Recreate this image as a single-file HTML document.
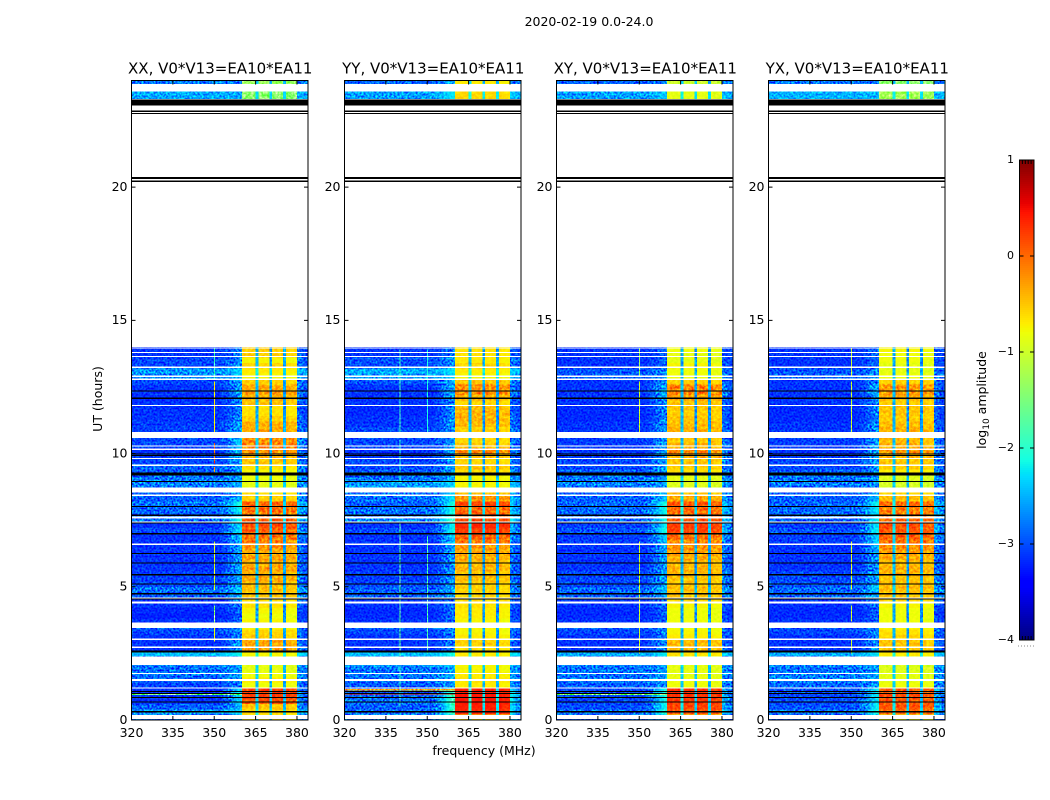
<!DOCTYPE html>
<html lang="en">
<head>
<meta charset="utf-8">
<title>2020-02-19 spectrogram</title>
<style>
html,body{margin:0;padding:0;background:#fff;}
svg{display:block;font-family:"DejaVu Sans","Liberation Sans",sans-serif;fill:#000;}
text{font-size:12.5px;}
</style>
</head>
<body>
<svg id="figure" xmlns="http://www.w3.org/2000/svg" width="1050" height="800" viewBox="0 0 1050 800">
  <defs>
    <filter id="grain" x="0" y="0" width="100%" height="100%" color-interpolation-filters="sRGB">
      <feTurbulence type="fractalNoise" baseFrequency="0.5" numOctaves="2" seed="7"/>
      <feColorMatrix type="matrix" values="2.4 0 0 0 -0.7  2.4 0 0 0 -0.7  2.4 0 0 0 -0.7  0 0 0 0 1"/>
    </filter>
    <filter id="grain-soft" x="0" y="0" width="100%" height="100%" color-interpolation-filters="sRGB">
      <feTurbulence type="fractalNoise" baseFrequency="0.37" numOctaves="2" seed="11"/>
      <feColorMatrix type="matrix" values="1.2 0 0 0 -0.1  1.2 0 0 0 -0.1  1.2 0 0 0 -0.1  0 0 0 0 1"/>
    </filter>
  </defs>
  <text x="589" y="26" text-anchor="middle">2020-02-19 0.0-24.0</text>
  <text transform="translate(102,399) rotate(-90)" text-anchor="middle">UT (hours)</text>
  <text x="484" y="755" text-anchor="middle">frequency (MHz)</text>
  <text transform="translate(986,400) rotate(-90)" text-anchor="middle">log<tspan font-size="9" dy="3">10</tspan><tspan dy="-3"> amplitude</tspan></text>
  <g id="panels"></g>
  <g id="colorbar"></g>
</svg>
<script>
// ---- axis labels ----
const polarisations = ["XX", "YY", "XY", "YX"];
const panelTitleSuffix = ", V0*V13=EA10*EA11";
const xTickValues = [320, 335, 350, 365, 380];
const yTickValues = [0, 5, 10, 15, 20];
const colorbarTickValues = [1, 0, -1, -2, -3, -4];
const colorbarTickLabels = ["1", "0", "\u22121", "\u22122", "\u22123", "\u22124"];

// ---- per-channel weights, channels at 320..383 MHz in 1 MHz steps ----
const bandWeight = [
 0,0,0,0,0,0,0,0,0,0, 0,0,0,0,0,0,0,0,0,0,
 0,0,0,0,0,0,0,0,0,0, 0,0,0,0,0,0,0,0,0,0,
 1,1,1,1,1,.25,1,1,1,1,
 .2,1,1,1,1,.2,1,.98,.98,.98,
 0,0,0,0];
const shoulderWeight = [
 0,0,0,0,0,0,0,0,0,0, 0,0,0,0,0,0,0,0,0,0,
 0,0,0,0,0,0,0,0,0,0, 0,0,.05,.1,.15,.25,.35,.45,.55,.6,
 0,0,0,0,0,0,0,0,0,0, 0,0,0,0,0,0,0,0,0,0,
 .4,.3,.2,.15];

// ---- log10 amplitude per 0.2 h row, 0 to 14 h: inside the 360-380 MHz band ----
const highXX = [
 -.7,-.6,-.5,.1,.25,  .2,-.8,-.7,-.8,-.85,  -.85,-.8,-.75,-.3,-.35,
 -.55,-.6,-.75,-.75,-.8,  -.75,-.65,-.6,-.5,-.45,  -.45,-.35,-.4,-.3,-.4,
 -.3,-.35,-.25,-.15,-.05,  .05,.15,.05,-.15,0,  .05,-.55,-.65,-.85,-.85,
 -.8,-.75,-.65,-.5,-.4,  -.2,-.15,-.2,-.4,-.35,  -.4,-.55,-.65,-.65,-.5,
 -.4,-.3,-.35,-.55,-.75,  -.7,-.6,-.75,-.55,-.55];
const highYY = [
 -.6,.35,.4,.45,.45,  .4,-.7,-.65,-.7,-.75,  -.75,-.7,-.7,-.65,-.55,
 -.7,-.75,-.75,-.75,-.7,  -.7,-.65,-.6,-.6,-.55,  -.55,-.45,-.5,-.4,-.45,
 -.35,-.35,-.25,-.1,.05,  .25,.35,.15,.05,0,  .2,-.25,-.45,-.75,-.75,
 -.75,-.6,-.5,-.6,-.45,  -.2,-.5,-.6,-.6,-.55,  -.45,-.4,-.4,-.45,-.6,
 -.4,-.2,-.2,-.5,-.75,  -.7,-.6,-.7,-.65,-.65];
const highXY = [
 -.7,.1,.2,.25,.3,  .3,-.8,-.8,-.85,-.85,  -.85,-.8,-.65,-.45,-.45,
 -.7,-.75,-.8,-.8,-.8,  -.8,-.75,-.6,-.5,-.45,  -.5,-.5,-.4,-.4,-.45,
 -.35,-.3,-.2,-.15,0,  .2,.25,.1,-.05,0,  .1,-.35,-.5,-.9,-.9,
 -.85,-.65,-.55,-.5,-.35,  -.2,-.45,-.5,-.6,-.4,  -.45,-.5,-.55,-.5,-.5,
 -.3,-.15,-.15,-.55,-.8,  -.8,-.75,-.85,-.85,-.8];
const highYX = [
 -.8,0,.1,.1,.15,  .1,-.8,-.85,-.85,-.9,  -.9,-.85,-.7,-.5,-.5,
 -.6,-.65,-.75,-.8,-.8,  -.8,-.75,-.6,-.5,-.45,  -.45,-.5,-.4,-.4,-.45,
 -.35,-.3,-.2,-.05,.05,  .1,.15,0,-.15,-.1,  0,-.45,-.6,-.95,-.95,
 -.9,-.7,-.55,-.5,-.4,  -.25,-.4,-.45,-.5,-.4,  -.45,-.55,-.5,-.5,-.55,
 -.4,-.25,-.25,-.55,-.8,  -.85,-.85,-.8,-.8,-.75];

// ---- log10 amplitude per 0.2 h row: outside the band ----
const lowXX = [
 -2.83,-2.63,-2.93,-3.13,-3.13,  -3.13,-3.03,-2.93,-2.83,-2.83,  -2.73,-2.73,-2.43,-3.13,-3.13,
 -3.13,-3.03,-2.93,-3.13,-3.23,  -3.18,-3.13,-3.13,-2.93,-2.83,  -3.03,-3.08,-3.08,-3.13,-3.13,
 -3.13,-3.13,-3.13,-3.13,-3.13,  -3.03,-3.13,-2.83,-2.93,-2.88,  -2.83,-2.93,-2.93,-2.83,-2.73,
 -2.83,-2.93,-2.93,-3.03,-3.08,  -3.13,-3.03,-3.03,-3.03,-3.08,  -3.08,-3.13,-3.13,-3.13,-3.13,
 -3.18,-3.13,-3.13,-3.03,-2.73,  -2.63,-3.03,-3.03,-3.13,-3.13];
const lowYY = [
 -2.73,-2.83,-2.93,-2.83,-2.88,  -2.93,-2.93,-2.83,-2.83,-2.83,  -2.63,-2.63,-2.43,-3.13,-3.13,
 -3.13,-3.03,-2.93,-3.13,-3.18,  -3.18,-3.13,-3.13,-2.93,-2.93,  -3.03,-3.08,-3.08,-3.13,-3.13,
 -3.13,-3.13,-3.13,-3.13,-3.13,  -3.03,-3.13,-2.73,-2.83,-2.83,  -2.93,-2.83,-2.83,-2.58,-2.63,
 -2.83,-2.93,-3.03,-3.03,-3.13,  -3.13,-3.03,-3.03,-2.98,-3.03,  -3.13,-3.13,-3.18,-3.18,-3.13,
 -3.13,-3.13,-3.13,-2.98,-2.63,  -2.53,-3.03,-2.98,-3.13,-3.13];
const lowXY = [
 -2.93,-2.83,-3.03,-3.03,-3.03,  -3.03,-2.93,-2.83,-2.83,-2.83,  -2.73,-2.73,-2.53,-3.13,-3.13,
 -3.13,-3.03,-2.98,-3.13,-3.18,  -3.18,-3.13,-3.13,-2.93,-2.88,  -3.03,-3.03,-3.03,-3.13,-3.13,
 -3.13,-3.13,-3.13,-3.08,-3.08,  -2.98,-3.08,-2.93,-2.88,-2.88,  -2.88,-2.93,-2.93,-2.88,-2.73,
 -2.83,-2.93,-3.03,-3.03,-3.08,  -3.13,-3.08,-3.08,-3.08,-3.13,  -3.13,-3.18,-3.18,-3.18,-3.13,
 -3.13,-3.13,-3.13,-3.13,-2.93,  -2.98,-3.13,-3.13,-3.13,-3.13];
const lowYX = [
 -2.93,-2.83,-2.98,-3.03,-3.03,  -2.98,-2.88,-2.78,-2.78,-2.83,  -2.73,-2.73,-2.53,-3.13,-3.13,
 -3.13,-3.03,-2.98,-3.13,-3.18,  -3.18,-3.13,-3.13,-2.93,-2.88,  -2.98,-3.03,-3.03,-3.13,-3.13,
 -3.13,-3.13,-3.13,-3.08,-3.08,  -2.98,-3.08,-2.93,-2.88,-2.88,  -2.88,-2.93,-2.93,-2.88,-2.78,
 -2.83,-2.93,-3.03,-3.03,-3.08,  -3.13,-3.08,-3.08,-3.08,-3.13,  -3.13,-3.18,-3.18,-3.18,-3.13,
 -3.13,-3.13,-3.13,-3.13,-2.93,  -2.98,-3.13,-3.13,-3.13,-3.13];

// ---- the two short strips near 24 h: [hour start, hour end] with band and off-band levels ----
const topStripHours = [[23.3, 23.58], [23.86, 24]];
const topHighXX = [-1.4, -1.3];
const topHighYY = [-.6, -.7];
const topHighXY = [-.85, -1];
const topHighYX = [-1.25, -1.4];
const topLowXX = [-2.55, -2.8];
const topLowYY = [-2.6, -2.9];
const topLowXY = [-2.6, -2.9];
const topLowYX = [-2.5, -2.8];

// ---- flagged time ranges in hours, common to all four baselines ----
const blankHours = [
 [13.94,13.98],[13.78,13.82],[13.63,13.67],[13.22,13.26],[12.88,12.92],[12.77,12.81],[11.79,11.83],
 [10.59,10.81],[10.27,10.31],[10.14,10.18],[9.8,9.84],[9.54,9.58],[8.54,8.72],[8.42,8.46],[7.57,7.64],
 [7.41,7.45],[6.58,6.62],[4.55,4.59],[4.37,4.44],[3.45,3.65],[3.01,3.05],[2.71,2.75],[2.06,2.38],
 [1.73,1.77],[1.47,1.53],[1.18,1.22],[.03,.19]];
const blackHours = [
 [23.07,23.29],[22.84,22.87],[22.74,22.78],[20.31,20.37],[20.19,20.25],
 [12.34,12.37],[12.07,12.1],[9.98,10.01],[9.92,9.95],[9.25,9.28],[9.2,9.23],[8.94,8.97],[8,8.03],
 [7.66,7.72],[7.39,7.42],[6.98,7.01],[6.24,6.27],[5.88,5.91],[5.44,5.47],[5.1,5.13],[4.73,4.76],
 [4.54,4.56],[2.53,2.61],[1.06,1.09],[.99,1.02],[.84,.87],[.67,.7],[.3,.33]];

// ---- narrow interference: [frequency MHz, hour start, hour end, log10 amplitude] ----
const spurXX = [[350,2.55,2.65,-.8],[350,2.94,3.45,-.8],[350,3.64,4.3,-1.4],[350,4.88,6.69,-.9],
 [350,9.3,9.5,-.3],[350,9.63,10.4,.1],[350,10.77,12.7,-.7],[350,12.76,13.95,-1.9]];
const spurYY = [[340,.5,2,-1.9],[340,2.4,7.4,-1.7],[340,8.9,10.5,-2],[340,10.8,13.9,-1.9],
 [350,2.5,6.9,-1.8],[350,10.8,13.9,-2.1]];
const spurXY = [[350,2.5,6.7,-1],[350,10.8,12.7,-1],[350,12.9,13.95,-1.3]];
const spurYX = [[350,2.5,3,-1],[350,3.7,4.3,-1],[350,4.9,6.7,-.9],[350,10.8,12.7,-1],[350,12.9,13.95,-1]];

// ---- broadband single rows: [hour start, hour end, log10 amplitude] ----
const burstXX = [[.94,.98,-1.5]];
const burstYY = [[.96,1,.45],[1.12,1.16,-.3]];
const burstXY = [[.94,.98,-1.4]];
const burstYX = [];

const rowHours = 0.2;
const panelLefts = [131.5, 344.5, 556.5, 768.5];
const panelWidth = 176.5;
const plotTop = 80.5, plotBottom = 720;
const freqMin = 320, freqMax = 384, hourMax = 24;
const svgNS = "http://www.w3.org/2000/svg";

const high = {XX: highXX, YY: highYY, XY: highXY, YX: highYX};
const low = {XX: lowXX, YY: lowYY, XY: lowXY, YX: lowYX};
const topHigh = {XX: topHighXX, YY: topHighYY, XY: topHighXY, YX: topHighYX};
const topLow = {XX: topLowXX, YY: topLowYY, XY: topLowXY, YX: topLowYX};
const spurs = {XX: spurXX, YY: spurYY, XY: spurXY, YX: spurYX};
const bursts = {XX: burstXX, YY: burstYY, XY: burstXY, YX: burstYX};

function segment(stops, t) {
  for (let i = 1; i < stops.length; i++) {
    if (t <= stops[i][0]) {
      const a = stops[i - 1], b = stops[i];
      return a[1] + (b[1] - a[1]) * (t - a[0]) / (b[0] - a[0]);
    }
  }
  return stops[stops.length - 1][1];
}
const jetRed = [[0,0],[.35,0],[.66,1],[.89,1],[1,.5]];
const jetGreen = [[0,0],[.125,0],[.375,1],[.64,1],[.91,0],[1,0]];
const jetBlue = [[0,.5],[.11,1],[.34,1],[.65,0],[1,0]];
function colorOf(level) {
  const t = Math.max(0, Math.min(1, (level + 4) / 5));
  const c = s => Math.round(255 * segment(s, t));
  return "rgb(" + c(jetRed) + "," + c(jetGreen) + "," + c(jetBlue) + ")";
}
function add(parent, tag, attrs, content) {
  const el = document.createElementNS(svgNS, tag);
  for (const k in attrs) el.setAttribute(k, attrs[k]);
  if (content !== undefined) el.textContent = content;
  parent.appendChild(el);
  return el;
}
const yOf = h => plotBottom - (plotBottom - plotTop) * h / hourMax;
const bandHeight = b => Math.max(1.2, yOf(b[0]) - yOf(b[1]));

function cellLevel(lowValue, highValue, channel) {
  const shoulder = shoulderWeight[channel] * Math.max(0, highValue + 1.2);
  return lowValue + bandWeight[channel] * (highValue - lowValue) + shoulder;
}

function drawRow(cells, xOf, h0, h1, lowValue, highValue) {
  const y0 = yOf(h1), y1 = yOf(h0);
  for (let c = 0; c < bandWeight.length; c++) {
    const x0 = xOf(freqMin + c), x1 = xOf(freqMin + c + 1);
    const cell = add(cells, "rect", {x: x0, y: y0, width: x1 - x0, height: y1 - y0,
      fill: colorOf(cellLevel(lowValue, highValue, c)), "shape-rendering": "crispEdges"});
    
    
  }
}

const panelsRoot = document.getElementById("panels");
polarisations.forEach((pol, p) => {
  const left = panelLefts[p], right = left + panelWidth;
  const xOf = f => left + (f - freqMin) * panelWidth / (freqMax - freqMin);
  const key = pol.toLowerCase();
  const g = add(panelsRoot, "g", {});
  
  

  const title = add(g, "text", {x: (left + right) / 2 + .5, y: 73.5, "text-anchor": "middle", style: "font-size:15px"}, pol + panelTitleSuffix);
  
  

  const cells = add(g, "g", {});
  
  

  high[pol].forEach((h, i) => {
    drawRow(cells, xOf, i * rowHours, (i + 1) * rowHours, low[pol][i], h);
  });
  topStripHours.forEach((range, i) => {
    drawRow(cells, xOf, range[0], range[1], topLow[pol][i], topHigh[pol][i]);
  });

  bursts[pol].forEach(b => {
    const line = add(g, "rect", {x: left, y: yOf(b[1]), width: xOf(360) - left, height: bandHeight(b),
      fill: colorOf(b[2]), "shape-rendering": "crispEdges"});
    
    
  });
  spurs[pol].forEach(s => {
    const line = add(g, "rect", {x: xOf(s[0]), y: yOf(s[2]), width: 1, height: yOf(s[1]) - yOf(s[2]),
      fill: colorOf(s[3]), "shape-rendering": "crispEdges"});
    
    
  });

  const grainLeft = add(g, "rect", {x: left, y: plotTop, width: xOf(360) - left, height: plotBottom - plotTop,
    filter: "url(#grain)", style: "mix-blend-mode:overlay"});
  
  
  const grainBand = add(g, "rect", {x: xOf(360), y: plotTop, width: xOf(380) - xOf(360), height: plotBottom - plotTop,
    filter: "url(#grain-soft)", style: "mix-blend-mode:overlay"});
  
  
  const grainRight = add(g, "rect", {x: xOf(380), y: plotTop, width: right - xOf(380), height: plotBottom - plotTop,
    filter: "url(#grain)", style: "mix-blend-mode:overlay"});
  
  

  blankHours.forEach(b => {
    const gap = add(g, "rect", {x: left, y: yOf(b[1]), width: panelWidth, height: bandHeight(b),
      fill: "#fff", "shape-rendering": "crispEdges"});
    
    
  });
  blackHours.forEach(b => {
    const flag = add(g, "rect", {x: left, y: yOf(b[1]), width: panelWidth, height: bandHeight(b),
      fill: "#000", "shape-rendering": "crispEdges"});
    
    
  });

  xTickValues.forEach(v => {
    const x = xOf(v);
    const ticks = add(g, "path", {d: "M" + x + " " + plotBottom + "v-4M" + x + " " + plotTop + "v4", stroke: "#000", "stroke-width": 1, fill: "none"});
    
    
    const label = add(g, "text", {x: x, y: 737, "text-anchor": "middle"}, String(v));
    
    
  });
  yTickValues.forEach(v => {
    const y = yOf(v);
    const ticks = add(g, "path", {d: "M" + left + " " + y + "h4M" + right + " " + y + "h-4", stroke: "#000", "stroke-width": 1, fill: "none"});
    
    
    const label = add(g, "text", {x: left - 4, y: y + 3.8, "text-anchor": "end"}, String(v));
    
    
  });

  const frame = add(g, "rect", {x: left, y: plotTop, width: panelWidth, height: plotBottom - plotTop, fill: "none", stroke: "#000", "stroke-width": 1});
  
  
});

// ---- colorbar ----
const cbar = document.getElementById("colorbar");
const cbLeft = 1019.5, cbRight = 1034, cbTop = 160, cbBottom = 640;
const cbY = v => cbTop + (1 - v) * (cbBottom - cbTop) / 5;
for (let i = 0; i < 240; i++) {
  const level = 1 - (i + .5) * 5 / 240;
  const bin = add(cbar, "rect", {x: cbLeft, y: cbTop + i * 2, width: cbRight - cbLeft, height: 2, fill: colorOf(level), "shape-rendering": "crispEdges"});
  
  
}
colorbarTickValues.forEach((v, i) => {
  const y = cbY(v);
  const tick = add(cbar, "path", {d: "M" + cbLeft + " " + y + "h4M" + cbRight + " " + y + "h-4", stroke: "#000", "stroke-width": 1, fill: "none"});
  
  
  const label = add(cbar, "text", {x: 1014, y: y + 3, "text-anchor": "end", style: "font-size:11px"}, colorbarTickLabels[i]);
  
  
});
[1022.4, 1025.3, 1028.2, 1031.1].forEach(x => {
  const comb = add(cbar, "path", {d: "M" + x + " " + cbTop + "v4M" + x + " " + cbBottom + "v-4", stroke: "#000", "stroke-width": 1, fill: "none"});
  
  
});
const cbFrame = add(cbar, "rect", {x: cbLeft, y: cbTop, width: cbRight - cbLeft, height: cbBottom - cbTop, fill: "none", stroke: "#000", "stroke-width": 1});


const dots = add(cbar, "line", {x1: 1018, x2: 1034, y1: 646, y2: 646, stroke: "#888", "stroke-width": 1, "stroke-dasharray": "1 2"});


</script>
</body>
</html>
